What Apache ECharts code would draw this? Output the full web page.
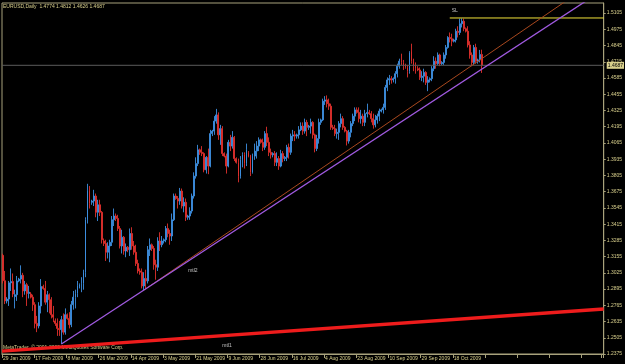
<!DOCTYPE html>
<html><head><meta charset="utf-8">
<style>html,body{margin:0;padding:0;background:#000;}#c{width:625px;height:364px;}</style>
<script src="https://cdn.jsdelivr.net/npm/echarts@6/dist/echarts.min.js"></script>
</head><body><div id="c"></div>
<script>
const symbol = 'EURUSD', timeframe = 'Daily';
const xLabels = ['29 Jan 2009','17 Feb 2009','8 Mar 2009','26 Mar 2009','14 Apr 2009','3 May 2009','21 May 2009','9 Jun 2009','28 Jun 2009','16 Jul 2009','4 Aug 2009','23 Aug 2009','10 Sep 2009','29 Sep 2009','18 Oct 2009'];
const barsPerLabel = 16;
const totalSlots = 299;
// [open, high, low, close]
const ohlc = [
[1.3165,1.3178,1.2940,1.2962],[1.2962,1.3040,1.2775,1.2800],[1.2800,1.2830,1.2780,1.2815],[1.2815,1.2960,1.2760,1.2945],
[1.2945,1.3060,1.2880,1.2955],[1.2955,1.3020,1.2830,1.2855],[1.2835,1.2890,1.2740,1.2850],[1.2850,1.3000,1.2800,1.2960],
[1.2960,1.2985,1.2950,1.2975],[1.2975,1.3085,1.2940,1.3005],[1.3005,1.3025,1.2830,1.2880],[1.2880,1.2960,1.2850,1.2930],
[1.2930,1.2945,1.2760,1.2860],[1.2860,1.2920,1.2820,1.2870],[1.2855,1.2870,1.2820,1.2830],[1.2830,1.2850,1.2720,1.2770],
[1.2770,1.2790,1.2580,1.2620],[1.2620,1.2680,1.2550,1.2600],[1.2600,1.2790,1.2580,1.2760],[1.2760,1.2975,1.2700,1.2915],
[1.2915,1.2930,1.2890,1.2900],[1.2900,1.2960,1.2770,1.2790],[1.2790,1.2880,1.2710,1.2850],[1.2850,1.2860,1.2700,1.2810],
[1.2810,1.2830,1.2660,1.2690],[1.2690,1.2760,1.2630,1.2670],[1.2640,1.2660,1.2600,1.2620],[1.2620,1.2660,1.2520,1.2580],
[1.2580,1.2640,1.2520,1.2570],[1.2570,1.2680,1.2455,1.2650],[1.2650,1.2700,1.2530,1.2550],[1.2550,1.2740,1.2530,1.2690],
[1.2690,1.2700,1.2650,1.2660],[1.2660,1.2710,1.2580,1.2610],[1.2610,1.2800,1.2590,1.2770],[1.2770,1.2880,1.2730,1.2830],
[1.2830,1.2890,1.2740,1.2860],[1.2860,1.2960,1.2830,1.2920],[1.2920,1.2940,1.2900,1.2930],[1.2930,1.2990,1.2870,1.2940],
[1.2940,1.3050,1.2890,1.3030],[1.3030,1.3470,1.2990,1.3450],[1.3450,1.3738,1.3420,1.3680],[1.3680,1.3720,1.3540,1.3580],
[1.3590,1.3610,1.3570,1.3600],[1.3600,1.3690,1.3560,1.3640],[1.3640,1.3660,1.3470,1.3510],[1.3510,1.3610,1.3440,1.3570],
[1.3570,1.3610,1.3480,1.3510],[1.3510,1.3520,1.3260,1.3290],[1.3280,1.3300,1.3240,1.3260],[1.3260,1.3290,1.3120,1.3190],
[1.3190,1.3270,1.3140,1.3240],[1.3240,1.3290,1.3110,1.3270],[1.3270,1.3480,1.3240,1.3450],[1.3450,1.3540,1.3400,1.3480],
[1.3480,1.3500,1.3440,1.3460],[1.3460,1.3490,1.3360,1.3380],[1.3380,1.3400,1.3220,1.3240],[1.3240,1.3370,1.3180,1.3310],
[1.3310,1.3320,1.3170,1.3200],[1.3200,1.3260,1.3150,1.3230],[1.3230,1.3240,1.3190,1.3210],[1.3210,1.3380,1.3160,1.3340],
[1.3340,1.3390,1.3210,1.3240],[1.3240,1.3280,1.3170,1.3190],[1.3190,1.3250,1.3080,1.3100],[1.3100,1.3130,1.3020,1.3040],
[1.3040,1.3060,1.3010,1.3030],[1.3030,1.3060,1.2900,1.2920],[1.2920,1.3030,1.2887,1.2980],[1.2980,1.3050,1.2900,1.2960],
[1.2960,1.3240,1.2940,1.3210],[1.3210,1.3300,1.3160,1.3250],[1.3250,1.3260,1.3200,1.3220],[1.3220,1.3240,1.3050,1.3090],
[1.3090,1.3130,1.2970,1.3070],[1.3070,1.3310,1.3040,1.3280],[1.3280,1.3350,1.3200,1.3250],[1.3250,1.3320,1.3230,1.3280],
[1.3280,1.3300,1.3260,1.3290],[1.3290,1.3400,1.3270,1.3380],[1.3380,1.3420,1.3310,1.3340],[1.3340,1.3370,1.3250,1.3320],
[1.3320,1.3500,1.3280,1.3450],[1.3450,1.3660,1.3440,1.3640],[1.3640,1.3660,1.3610,1.3620],[1.3620,1.3640,1.3540,1.3600],
[1.3600,1.3705,1.3570,1.3680],[1.3680,1.3700,1.3540,1.3560],[1.3560,1.3630,1.3510,1.3590],[1.3590,1.3620,1.3440,1.3470],
[1.3470,1.3490,1.3450,1.3480],[1.3480,1.3550,1.3450,1.3520],[1.3520,1.3660,1.3500,1.3640],[1.3640,1.3830,1.3620,1.3800],
[1.3800,1.3950,1.3780,1.3900],[1.3900,1.4050,1.3880,1.4010],[1.4010,1.4020,1.3970,1.3990],[1.3990,1.4040,1.3960,1.3980],
[1.3980,1.3990,1.3830,1.3850],[1.3850,1.3960,1.3820,1.3950],[1.3950,1.4020,1.3815,1.3880],[1.3880,1.4170,1.3870,1.4140],
[1.4140,1.4170,1.4120,1.4160],[1.4160,1.4280,1.4130,1.4240],[1.4240,1.4338,1.4220,1.4290],[1.4290,1.4310,1.4090,1.4130],
[1.4130,1.4210,1.4050,1.4180],[1.4180,1.4200,1.3960,1.3980],[1.3980,1.3990,1.3950,1.3960],[1.3960,1.3980,1.3820,1.3880],
[1.3880,1.4090,1.3870,1.4070],[1.4070,1.4130,1.4000,1.4040],[1.4040,1.4160,1.4020,1.4110],[1.4110,1.4120,1.3920,1.3940],
[1.3940,1.3950,1.3900,1.3910],[1.3910,1.3940,1.3750,1.3800],[1.3800,1.3960,1.3780,1.3930],[1.3930,1.3990,1.3870,1.3970],
[1.3970,1.3990,1.3860,1.3900],[1.3900,1.4060,1.3880,1.4010],[1.3990,1.4000,1.3950,1.3960],[1.3960,1.3970,1.3800,1.3830],
[1.3830,1.3980,1.3820,1.3960],[1.3960,1.4060,1.3930,1.4000],[1.4000,1.4080,1.3940,1.4040],[1.4040,1.4110,1.4000,1.4090],
[1.4090,1.4100,1.4060,1.4070],[1.4070,1.4100,1.4000,1.4030],[1.4030,1.4160,1.4010,1.4140],[1.4140,1.4195,1.4040,1.4070],
[1.4070,1.4110,1.3960,1.3990],[1.3990,1.4020,1.3940,1.3970],[1.3970,1.3990,1.3950,1.3980],[1.3980,1.4000,1.3880,1.3910],
[1.3910,1.3990,1.3880,1.3940],[1.3940,1.3960,1.3850,1.3880],[1.3880,1.4010,1.3870,1.3980],[1.3980,1.4000,1.3910,1.3940],
[1.3940,1.3960,1.3920,1.3950],[1.3950,1.4050,1.3920,1.4030],[1.4030,1.4060,1.3940,1.3990],[1.3990,1.4140,1.3970,1.4120],
[1.4120,1.4170,1.4080,1.4130],[1.4130,1.4160,1.4080,1.4120],[1.4120,1.4140,1.4100,1.4130],[1.4130,1.4200,1.4100,1.4170],
[1.4170,1.4230,1.4160,1.4200],[1.4200,1.4230,1.4130,1.4160],[1.4160,1.4260,1.4140,1.4230],[1.4230,1.4250,1.4120,1.4190],
[1.4190,1.4210,1.4170,1.4200],[1.4200,1.4260,1.4140,1.4230],[1.4230,1.4240,1.4100,1.4130],[1.4130,1.4140,1.3990,1.4020],
[1.4020,1.4130,1.4000,1.4100],[1.4100,1.4260,1.4060,1.4230],[1.4230,1.4260,1.4210,1.4250],[1.4250,1.4420,1.4240,1.4400],
[1.4400,1.4440,1.4370,1.4410],[1.4410,1.4446,1.4350,1.4380],[1.4380,1.4420,1.4330,1.4360],[1.4360,1.4380,1.4170,1.4190],
[1.4190,1.4210,1.4170,1.4180],[1.4180,1.4210,1.4120,1.4140],[1.4140,1.4180,1.4100,1.4150],[1.4150,1.4240,1.4090,1.4220],
[1.4220,1.4300,1.4190,1.4260],[1.4260,1.4280,1.4170,1.4190],[1.4190,1.4200,1.4150,1.4160],[1.4160,1.4170,1.4045,1.4080],
[1.4080,1.4170,1.4060,1.4150],[1.4150,1.4240,1.4110,1.4220],[1.4220,1.4300,1.4200,1.4280],[1.4280,1.4350,1.4240,1.4330],
[1.4330,1.4350,1.4300,1.4310],[1.4310,1.4350,1.4230,1.4260],[1.4260,1.4330,1.4220,1.4280],[1.4280,1.4300,1.4200,1.4230],
[1.4230,1.4330,1.4200,1.4300],[1.4300,1.4380,1.4270,1.4310],[1.4310,1.4330,1.4290,1.4300],[1.4300,1.4320,1.4230,1.4260],
[1.4260,1.4300,1.4180,1.4210],[1.4210,1.4290,1.4190,1.4250],[1.4250,1.4300,1.4220,1.4280],[1.4280,1.4340,1.4240,1.4320],
[1.4320,1.4340,1.4310,1.4330],[1.4330,1.4380,1.4300,1.4350],[1.4350,1.4530,1.4330,1.4510],[1.4510,1.4590,1.4480,1.4570],
[1.4570,1.4610,1.4530,1.4580],[1.4580,1.4600,1.4540,1.4570],[1.4570,1.4590,1.4550,1.4580],[1.4580,1.4640,1.4540,1.4620],
[1.4620,1.4700,1.4590,1.4680],[1.4680,1.4740,1.4660,1.4720],[1.4720,1.4780,1.4690,1.4710],[1.4710,1.4730,1.4650,1.4680],
[1.4680,1.4700,1.4660,1.4670],[1.4670,1.4690,1.4590,1.4640],[1.4640,1.4800,1.4620,1.4790],[1.4800,1.4860,1.4700,1.4720],
[1.4720,1.4740,1.4640,1.4680],[1.4690,1.4710,1.4620,1.4660],[1.4660,1.4680,1.4640,1.4650],[1.4650,1.4670,1.4570,1.4590],
[1.4590,1.4640,1.4560,1.4600],[1.4600,1.4660,1.4550,1.4630],[1.4630,1.4640,1.4530,1.4550],[1.4550,1.4600,1.4480,1.4570],
[1.4570,1.4590,1.4550,1.4580],[1.4580,1.4680,1.4560,1.4660],[1.4660,1.4760,1.4640,1.4720],[1.4720,1.4750,1.4660,1.4700],
[1.4700,1.4790,1.4690,1.4770],[1.4770,1.4780,1.4680,1.4700],[1.4700,1.4720,1.4690,1.4710],[1.4710,1.4790,1.4690,1.4770],
[1.4770,1.4850,1.4740,1.4830],[1.4830,1.4920,1.4820,1.4910],[1.4910,1.4950,1.4870,1.4900],[1.4900,1.4940,1.4840,1.4880],
[1.4880,1.4900,1.4870,1.4890],[1.4890,1.4980,1.4870,1.4960],[1.4960,1.5000,1.4910,1.4950],[1.4950,1.5061,1.4930,1.5020],
[1.5020,1.5062,1.4990,1.5040],[1.5040,1.5060,1.4960,1.4980],[1.4980,1.4990,1.4950,1.4960],[1.4960,1.5000,1.4830,1.4850],
[1.4850,1.4880,1.4740,1.4770],[1.4770,1.4790,1.4680,1.4710],[1.4710,1.4850,1.4690,1.4830],[1.4830,1.4860,1.4700,1.4720],
[1.4720,1.4740,1.4700,1.4730],[1.4730,1.4810,1.4710,1.4774],[1.4774,1.4812,1.4626,1.4687]
];
const yMin = 1.2375, yMax = 1.5186, yTickStep = 0.013;
const slLevel = 1.5066;
// trend line anchors: [bar index, price]
const mtl2Anchors = [[29, 1.2455], [70, 1.2887]];
const brownAnchors = [[70, 1.2887], [180, 1.4101]];
const mtl1Anchors = [[-0.5, 1.2398], [298.5, 1.2735]];
const slStartBar = 222;
const textNotes = [
  {name: 'mtl2', bar: 92, price: 1.3045},
  {name: 'mtl1', bar: 109, price: 1.2445},
  {name: 'SL', bar: 223, price: 1.5128}
];

const fg = '#d8cf8c', frame = '#a8a27c';
const upColor = '#3d8fe0', downColor = '#e0302c';
const fontFam = 'Liberation Sans, Arial, sans-serif';

const categories = [];
for (let i = 0; i < totalSlots; i++) {
  categories.push(i % barsPerLabel === 0 && i / barsPerLabel < xLabels.length ? xLabels[i / barsPerLabel] : '');
}
const candleData = ohlc.map(b => [b[0], b[3], b[2], b[1]]);
const xEnd = totalSlots - 0.5;
function ray(a, b, fromX, toX) {
  const s = (b[1] - a[1]) / (b[0] - a[0]);
  return [[fromX, a[1] + s * (fromX - a[0])], [toX, a[1] + s * (toX - a[0])]];
}
const last = ohlc[ohlc.length - 1];
const bid = last[3];

const chart = echarts.init(document.getElementById('c'), null, {renderer: 'canvas'});
chart.setOption({
  backgroundColor: '#000',
  animation: false,
  title: {
    text: symbol + ',' + timeframe + '  ' + last.map(v => v.toFixed(4)).join(' '),
    left: 3, top: 4, padding: 0,
    textStyle: {color: fg, fontSize: 5, fontWeight: 'normal', fontFamily: fontFam}
  },
  graphic: [{
    type: 'text', left: 3, top: 345,
    style: {text: 'MetaTrader, \u00a9 2001-2009 MetaQuotes Software Corp.', fill: fg, fontSize: 5, fontFamily: fontFam}
  }],
  grid: {left: 2, right: 20, top: 3, bottom: 10, show: true, borderColor: frame, borderWidth: 1, backgroundColor: 'transparent'},
  xAxis: [{
    type: 'category', data: categories, boundaryGap: true,
    axisLine: {show: true, lineStyle: {color: frame}},
    axisTick: {show: true, interval: barsPerLabel - 1, length: 4, lineStyle: {color: frame}},
    axisLabel: {show: true, interval: 0, color: fg, fontSize: 5, fontFamily: fontFam, align: 'left', margin: 2},
    splitLine: {show: false}
  }, {
    type: 'value', min: -0.5, max: xEnd, show: false
  }],
  yAxis: [{
    type: 'value', min: yMin, max: yMax, show: false, splitLine: {show: false}
  }, {
    type: 'value', position: 'right', min: 0, max: yMax - yMin, interval: yTickStep,
    axisLine: {show: true, lineStyle: {color: frame}},
    axisTick: {show: true, length: 2, lineStyle: {color: frame}},
    axisLabel: {color: fg, fontSize: 5, fontFamily: fontFam, margin: 3, showMaxLabel: false, formatter: v => (yMin + v).toFixed(4)},
    splitLine: {show: false}
  }],
  series: [{
    type: 'candlestick', xAxisIndex: 0, yAxisIndex: 0, data: candleData, barWidth: 1.4, large: false,
    itemStyle: {color: upColor, color0: downColor, borderColor: upColor, borderColor0: downColor, borderColorDoji: upColor, borderWidth: 0.9}
  }, {
    type: 'line', xAxisIndex: 1, yAxisIndex: 0, data: [[-0.5, bid], [xEnd, bid]], showSymbol: false, silent: true,
    lineStyle: {color: '#5c5c5c', width: 1},
    endLabel: {show: true, formatter: bid.toFixed(4), color: '#000', backgroundColor: fg, fontSize: 5, fontFamily: fontFam, padding: [1, 1], distance: 3}
  }, {
    type: 'line', xAxisIndex: 1, yAxisIndex: 0, data: [[slStartBar, slLevel], [xEnd, slLevel]], showSymbol: false, silent: true,
    lineStyle: {color: '#f2e33a', width: 1}
  }, {
    type: 'line', xAxisIndex: 1, yAxisIndex: 0, data: ray(brownAnchors[0], brownAnchors[1], brownAnchors[0][0], xEnd), showSymbol: false, silent: true,
    lineStyle: {color: '#a8481e', width: 1}
  }, {
    type: 'line', xAxisIndex: 1, yAxisIndex: 0, data: ray(mtl2Anchors[0], mtl2Anchors[1], mtl2Anchors[0][0], xEnd), showSymbol: false, silent: true,
    lineStyle: {color: '#a05ae0', width: 1.3}
  }, {
    type: 'line', xAxisIndex: 1, yAxisIndex: 0, data: ray(mtl1Anchors[0], mtl1Anchors[1], -0.5, xEnd), showSymbol: false, silent: true,
    lineStyle: {color: '#ee1c1c', width: 3.5}
  }, {
    type: 'scatter', xAxisIndex: 1, yAxisIndex: 0, symbolSize: 0, silent: true,
    data: textNotes.map(t => ({value: [t.bar, t.price], name: t.name})),
    label: {show: true, position: 'right', distance: 0, formatter: p => p.name, color: '#e8e8e8', fontSize: 5, fontFamily: fontFam}
  }]
});
</script></body></html>
